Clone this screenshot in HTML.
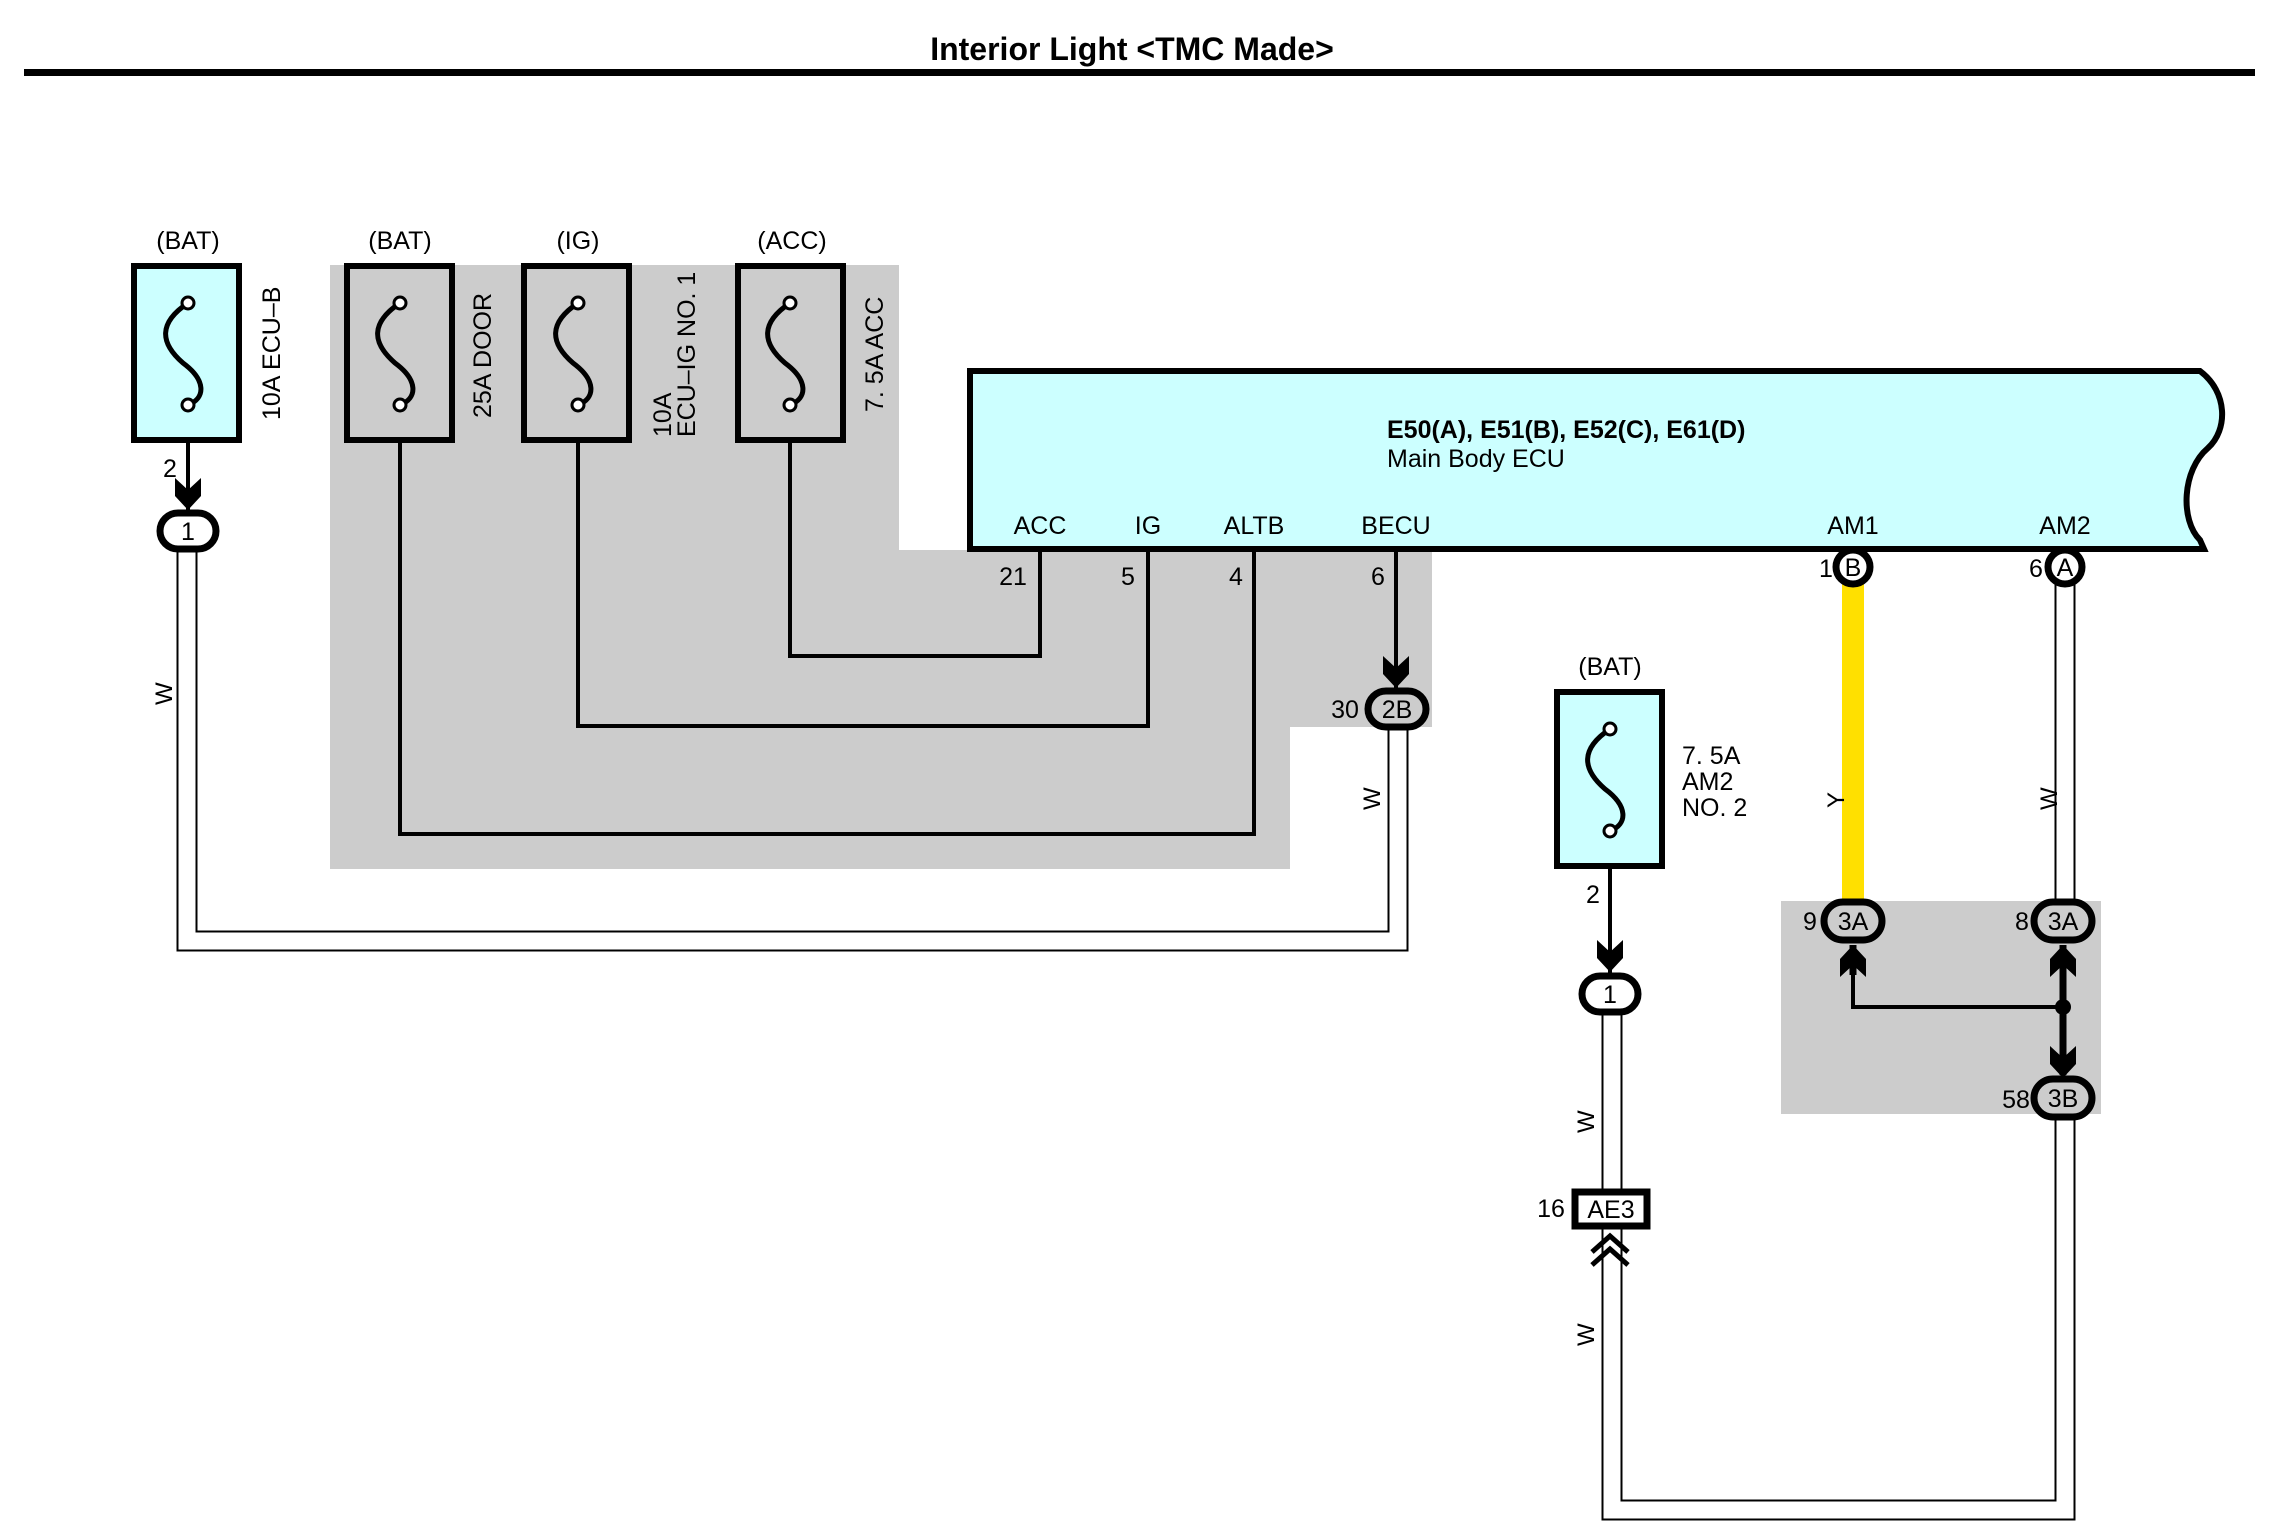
<!DOCTYPE html>
<html><head><meta charset="utf-8"><style>
html,body{margin:0;padding:0;background:#fff;}
svg{display:block;}
text{font-family:"Liberation Sans",sans-serif;fill:#000;}
</style></head><body>
<svg width="2270" height="1535" viewBox="0 0 2270 1535" xmlns="http://www.w3.org/2000/svg">
<defs>
<g id="fz"><path d="M0,-55 C-30,-35 -28,-15 -5,5 C18,22 18,40 0,47" fill="none" stroke="#000" stroke-width="5"/><circle cx="0" cy="-55" r="6" fill="#fff" stroke="#000" stroke-width="3"/><circle cx="0" cy="47" r="6" fill="#fff" stroke="#000" stroke-width="3"/></g>
<path id="ad" d="M-13,-22 L0,-10 L13,-22 L13,-4 L0,10 L-13,-4 Z" fill="#000"/>
</defs>
<text x="1132" y="60" font-size="32" font-weight="bold" text-anchor="middle">Interior Light &lt;TMC Made&gt;</text>
<rect x="24" y="69" width="2231" height="7" fill="#000"/>

<path d="M330,265 H899 V550 H1432 V727 H1290 V869 H330 Z" fill="#cccccc"/>
<rect x="1781" y="901" width="320" height="213" fill="#cccccc"/>

<g fill="none" stroke-linejoin="miter">
<polyline points="187,531 187,941 1398,941 1398,709" stroke="#000" stroke-width="21"/>
<polyline points="187,531 187,941 1398,941 1398,709" stroke="#fff" stroke-width="17"/>
<polyline points="1612,994 1612,1510 2065,1510 2065,1097" stroke="#000" stroke-width="21"/>
<polyline points="1612,994 1612,1510 2065,1510 2065,1097" stroke="#fff" stroke-width="17"/>
<line x1="2065" y1="567" x2="2065" y2="920" stroke="#000" stroke-width="21"/>
<line x1="2065" y1="567" x2="2065" y2="920" stroke="#fff" stroke-width="17"/>
</g>
<line x1="1853" y1="575" x2="1853" y2="905" stroke="#ffe000" stroke-width="22"/>

<g fill="none" stroke="#000" stroke-width="4">
<polyline points="790,400 790,656 1040,656 1040,550"/>
<polyline points="578,400 578,726 1148,726 1148,550"/>
<polyline points="400,400 400,834 1254,834 1254,550"/>
<line x1="1396" y1="550" x2="1396" y2="690" />
<line x1="188" y1="400" x2="188" y2="510"/>
<line x1="1610" y1="830" x2="1610" y2="975"/>
<polyline points="1853,950 1853,1007 2063,1007"/>
</g>
<g stroke="#000" stroke-width="7">
<line x1="1853" y1="945" x2="1853" y2="975"/>
<line x1="2063" y1="945" x2="2063" y2="1075"/>
</g>
<circle cx="2063" cy="1007" r="8" fill="#000"/>
<use href="#ad" x="188" y="500"/>
<use href="#ad" x="1396" y="678"/>
<use href="#ad" x="1610" y="962"/>
<use href="#ad" x="2063" y="1068"/>
<use href="#ad" transform="translate(1853,955) scale(1,-1)"/>
<use href="#ad" transform="translate(2063,955) scale(1,-1)"/>

<g stroke="#000" stroke-width="6">
<rect x="134" y="266" width="105" height="174" fill="#ccffff"/>
<rect x="347" y="266" width="105" height="174" fill="#cccccc"/>
<rect x="524" y="266" width="105" height="174" fill="#cccccc"/>
<rect x="738" y="266" width="105" height="174" fill="#cccccc"/>
<rect x="1557" y="692" width="105" height="174" fill="#ccffff"/>
</g>
<use href="#fz" x="188" y="358"/>
<use href="#fz" x="400" y="358"/>
<use href="#fz" x="578" y="358"/>
<use href="#fz" x="790" y="358"/>
<use href="#fz" x="1610" y="784"/>
<g font-size="25" text-anchor="middle">
<text x="188" y="249">(BAT)</text><text x="400" y="249">(BAT)</text>
<text x="578" y="249">(IG)</text><text x="792" y="249">(ACC)</text>
<text x="1610" y="675">(BAT)</text>
</g>
<g font-size="25">
<text transform="translate(280,420) rotate(-90)">10A ECU–B</text>
<text transform="translate(491,418) rotate(-90)">25A DOOR</text>
<text transform="translate(671,437) rotate(-90)">10A</text>
<text transform="translate(695,437) rotate(-90)">ECU–IG NO. 1</text>
<text transform="translate(883,412) rotate(-90)">7. 5A ACC</text>
<text x="1682" y="764">7. 5A</text><text x="1682" y="790">AM2</text><text x="1682" y="816">NO. 2</text>
</g>

<path d="M970,371 H2200 C2228,392 2228,430 2208,448 C2182,470 2180,520 2200,540 L2204,549 H970 Z" fill="#ccffff" stroke="#000" stroke-width="6"/>
<text x="1387" y="438" font-size="25" font-weight="bold">E50(A), E51(B), E52(C), E61(D)</text>
<text x="1387" y="467" font-size="25">Main Body ECU</text>
<g font-size="25" text-anchor="middle">
<text x="1040" y="534">ACC</text><text x="1148" y="534">IG</text><text x="1254" y="534">ALTB</text><text x="1396" y="534">BECU</text>
<text x="1853" y="534">AM1</text><text x="2065" y="534">AM2</text>
<text x="1013" y="585">21</text><text x="1128" y="585">5</text><text x="1236" y="585">4</text><text x="1378" y="585">6</text>
</g>

<g stroke="#000" stroke-width="7">
<rect x="160" y="513" width="56" height="36" rx="18" fill="#fff"/>
<rect x="1582" y="976" width="56" height="36" rx="18" fill="#fff"/>
<rect x="1368" y="691" width="58" height="36" rx="18" fill="#ccc"/>
<circle cx="1853" cy="567" r="17" fill="#fff"/>
<circle cx="2065" cy="567" r="17" fill="#fff"/>
<rect x="1824" y="902" width="58" height="38" rx="19" fill="#ccc"/>
<rect x="2034" y="902" width="58" height="38" rx="19" fill="#ccc"/>
<rect x="2034" y="1079" width="58" height="38" rx="19" fill="#ccc"/>
<rect x="1575" y="1192" width="72" height="34" fill="#fff"/>
</g>
<g fill="none" stroke="#000" stroke-width="5">
<polyline points="1592,1252 1610,1236 1628,1252"/>
<polyline points="1592,1265 1610,1249 1628,1265"/>
</g>
<g font-size="25" text-anchor="middle">
<text x="188" y="540">1</text><text x="1610" y="1003">1</text>
<text x="1397" y="718">2B</text><text x="1853" y="576">B</text><text x="2065" y="576">A</text>
<text x="1853" y="930">3A</text><text x="2063" y="930">3A</text><text x="2063" y="1107">3B</text>
<text x="1611" y="1218">AE3</text>
<text x="170" y="477">2</text><text x="1593" y="903">2</text>
<text x="1345" y="718">30</text><text x="1826" y="577">1</text><text x="2036" y="577">6</text>
<text x="1810" y="930">9</text><text x="2022" y="930">8</text><text x="2016" y="1108">58</text>
<text x="1551" y="1217">16</text>
</g>
<g font-size="24">
<text transform="translate(172,705) rotate(-90)">W</text>
<text transform="translate(1380,810) rotate(-90)">W</text>
<text transform="translate(2057,810) rotate(-90)">W</text>
<text transform="translate(1844,808) rotate(-90)">Y</text>
<text transform="translate(1594,1133) rotate(-90)">W</text>
<text transform="translate(1594,1346) rotate(-90)">W</text>
</g>
</svg>
</body></html>
